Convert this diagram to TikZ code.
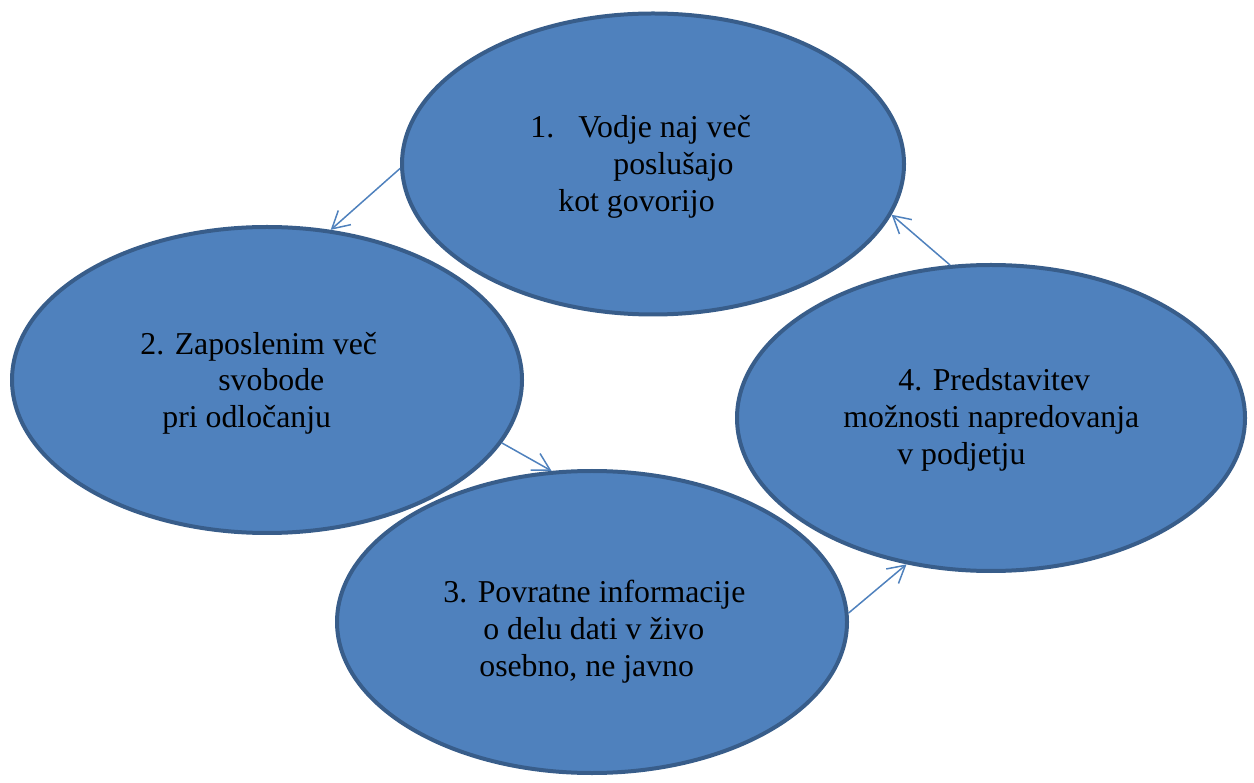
\documentclass[tikz,border=0pt]{standalone}
\usepackage{fontspec}
\setmainfont{Liberation Serif}
\usetikzlibrary{shapes.geometric,arrows.meta}
\definecolor{cyclefill}{RGB}{79,129,189}
\definecolor{cycleedge}{RGB}{56,93,138}
\definecolor{cyclearrow}{RGB}{79,129,189}
\tikzset{
  phase/.style={ellipse, draw=cycleedge, fill=cyclefill, line width=0.08cm, inner sep=0pt},
  txt/.style={anchor=base west, inner sep=0pt, font=\fontsize{18.1}{21}\selectfont},
  arr/.style={draw=cyclearrow, line width=0.03cm, -{Straight Barb[length=3.4mm,width=3.8mm]}}
}
\begin{document}
\begin{tikzpicture}[x=0.02cm,y=-0.02cm]
\useasboundingbox (0,0) rectangle (1254,783);
% the four phases
\node[phase, minimum width=502*0.02cm, minimum height=301*0.02cm] (e1) at (653,164) {};
\node[phase, minimum width=510*0.02cm, minimum height=306*0.02cm] (e2) at (267,380) {};
\node[phase, minimum width=510*0.02cm, minimum height=302*0.02cm] (e3) at (592,622) {};
\node[phase, minimum width=508*0.02cm, minimum height=306*0.02cm] (e4) at (991,418) {};
% labels
\node[txt] (t1a) at (530,138) {1.};
\node[txt] (t1b) at (578,138) {Vodje naj več};
\node[txt] (t1c) at (613,175) {poslušajo};
\node[txt] (t1d) at (558,212) {kot govorijo};
\node[txt] (t2a) at (140,355) {2. Zaposlenim več};
\node[txt] (t2b) at (218,391) {svobode};
\node[txt] (t2c) at (162,428) {pri odločanju};
\node[txt] (t3a) at (443,602) {3. Povratne informacije};
\node[txt] (t3b) at (483,639) {o delu dati v živo};
\node[txt] (t3c) at (479,676) {osebno, ne javno};
\node[txt] (t4a) at (898,391) {4. Predstavitev};
\node[txt] (t4b) at (843,428) {možnosti napredovanja};
\node[txt] (t4c) at (897,465) {v podjetju};
% cycle arrows
\draw[arr] (e1.181) -- (e2.67);
\draw[arr] (e2.-15.5) -- (e3.105);
\draw[arr] (e3.2.7) -- (e4.240.5);
\draw[arr] (e4.105.5) -- (e1.-12.4);
\end{tikzpicture}
\end{document}
